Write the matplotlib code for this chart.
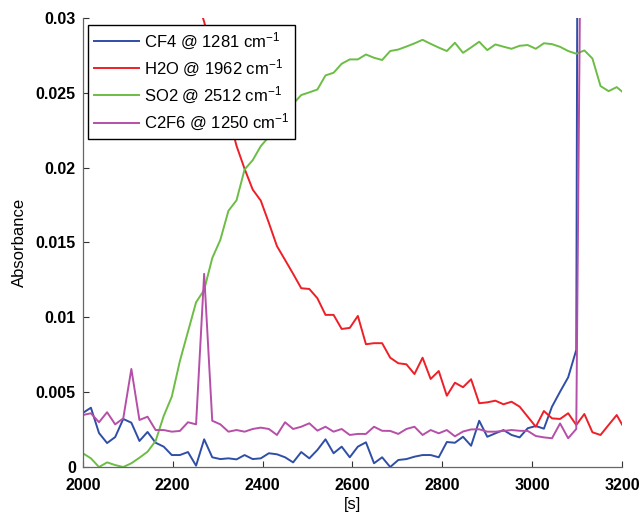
import numpy as np
import matplotlib.pyplot as plt

plt.rcParams['font.family'] = ['Liberation Sans', 'DejaVu Sans']
plt.rcParams['mathtext.default'] = 'regular'

# sampling grid (s)
t0 = 2000
dt = 18.0

# CF4 @ 1281 cm-1 (last point goes off scale)
cf4 = [0.00361, 0.00396, 0.00227, 0.00160, 0.00200, 0.00321, 0.00296, 0.00174, 0.00234, 0.00162,
       0.00136, 0.00080, 0.00080, 0.00100, 0.00009, 0.00185, 0.00065, 0.00053, 0.00058, 0.00051,
       0.00080, 0.00053, 0.00058, 0.00092, 0.00085, 0.00065, 0.00031, 0.00100, 0.00058, 0.00114,
       0.00185, 0.00092, 0.00136, 0.00065, 0.00136, 0.00165, 0.00025, 0.00065, 0.00000, 0.00047,
       0.00053, 0.00069, 0.00080, 0.00080, 0.00065, 0.00167, 0.00162, 0.00202, 0.00142, 0.00309,
       0.00202, 0.00225, 0.00247, 0.00214, 0.00198, 0.00259, 0.00274, 0.00256, 0.00403, 0.00503,
       0.00599, 0.00782, 0.2]

# H2O @ 1962 cm-1, starts at sample 14 (earlier values off scale)
h2o_start = 14
h2o = [0.0315, 0.02973, 0.02766, 0.02559, 0.02352, 0.02145, 0.01991, 0.01853, 0.01779, 0.01630,
       0.01475, 0.01383, 0.01290, 0.01194, 0.01189, 0.01127, 0.01016, 0.01016, 0.00922, 0.00929,
       0.01009, 0.00820, 0.00827, 0.00827, 0.00730, 0.00693, 0.00686, 0.00621, 0.00730, 0.00588,
       0.00641, 0.00476, 0.00563, 0.00533, 0.00586, 0.00426, 0.00432, 0.00443, 0.00419, 0.00436,
       0.00403, 0.00336, 0.00269, 0.00374, 0.00325, 0.00321, 0.00359, 0.00281, 0.00354, 0.00232,
       0.00214, 0.00281, 0.00347, 0.00252]

# SO2 @ 2512 cm-1
so2 = [0.00092, 0.00058, 0.00000, 0.00031, 0.00013, 0.00000, 0.00025, 0.00062, 0.00102, 0.00174,
       0.00341, 0.00470, 0.00708, 0.00904, 0.01100, 0.01183, 0.01395, 0.01517, 0.01711, 0.01781,
       0.01987, 0.02049, 0.02143, 0.02205, 0.02279, 0.02352, 0.02426, 0.02484, 0.02502, 0.02521,
       0.02615, 0.02633, 0.02693, 0.02722, 0.02722, 0.02755, 0.02733, 0.02718, 0.02778, 0.02788,
       0.02808, 0.02829, 0.02853, 0.02826, 0.02801, 0.02778, 0.02833, 0.02766, 0.02802, 0.02840,
       0.02784, 0.02822, 0.02807, 0.02793, 0.02813, 0.02818, 0.02793, 0.02830, 0.02824, 0.02806,
       0.02778, 0.02760, 0.02782, 0.02728, 0.02544, 0.02510, 0.02537, 0.02492]

# C2F6 @ 1250 cm-1 (last point goes off scale)
c2f6 = [0.00347, 0.00359, 0.00299, 0.00366, 0.00285, 0.00325, 0.00655, 0.00314, 0.00336, 0.00247,
        0.00247, 0.00236, 0.00241, 0.00299, 0.00285, 0.01290, 0.00309, 0.00285, 0.00236, 0.00247,
        0.00236, 0.00254, 0.00263, 0.00254, 0.00214, 0.00299, 0.00254, 0.00269, 0.00292, 0.00243,
        0.00269, 0.00236, 0.00254, 0.00214, 0.00221, 0.00221, 0.00269, 0.00242, 0.00241, 0.00221,
        0.00254, 0.00269, 0.00214, 0.00247, 0.00225, 0.00247, 0.00205, 0.00237, 0.00251, 0.00252,
        0.00236, 0.00236, 0.00241, 0.00247, 0.00242, 0.00241, 0.00207, 0.00198, 0.00192, 0.00291,
        0.00192, 0.00254, 0.065]

labels = ['CF4 @ 1281 cm$^{-1}$', 'H2O @ 1962 cm$^{-1}$',
          'SO2 @ 2512 cm$^{-1}$', 'C2F6 @ 1250 cm$^{-1}$']
colors = ['#2f4ea6', '#ee1f26', '#6cbd45', '#b64fa8']


def times(n, start=0):
    return t0 + dt * (np.arange(n) + start)


fig = plt.figure(figsize=(6.42, 5.14), dpi=100)
ax = fig.add_axes([0.129, 0.0914, 0.84, 0.874])

lw = 1.4
ax.plot(times(len(cf4)), cf4, color=colors[0], lw=lw, label=labels[0])
ax.plot(times(len(h2o), h2o_start), h2o, color=colors[1], lw=lw, label=labels[1])
ax.plot(times(len(so2)), so2, color=colors[2], lw=lw, label=labels[2])
ax.plot(times(len(c2f6)), c2f6, color=colors[3], lw=lw, label=labels[3])

ax.set_xlim(2000, 3200)
ax.set_ylim(0, 0.03)
ax.set_xticks(np.arange(2000, 3201, 200))
ax.set_yticks([0, 0.005, 0.01, 0.015, 0.02, 0.025, 0.03])
ax.set_yticklabels(['0', '0.005', '0.01', '0.015', '0.02', '0.025', '0.03'])

for s in ['top', 'right']:
    ax.spines[s].set_visible(False)
for s in ['left', 'bottom']:
    ax.spines[s].set_color('#666666')
    ax.spines[s].set_linewidth(0.9)

ax.tick_params(direction='in', length=4, width=0.8, color='#333333',
               labelsize=11.5)
ax.tick_params(axis='y', pad=5)
ax.tick_params(axis='x', pad=8)
for lab in ax.get_xticklabels() + ax.get_yticklabels():
    lab.set_fontweight('bold')

ax.set_xlabel('[s]', fontsize=12, labelpad=3)
ax.set_ylabel('Absorbance', fontsize=12, labelpad=6)

leg = ax.legend(loc='upper left', bbox_to_anchor=(0.009, 0.985), fontsize=12,
                frameon=True, fancybox=False, framealpha=1, edgecolor='black',
                handlelength=2.7, handletextpad=0.3, labelspacing=0.36,
                borderaxespad=0, borderpad=0.35)
leg.get_frame().set_linewidth(1.0)

fig.savefig('out.png', dpi=100)
